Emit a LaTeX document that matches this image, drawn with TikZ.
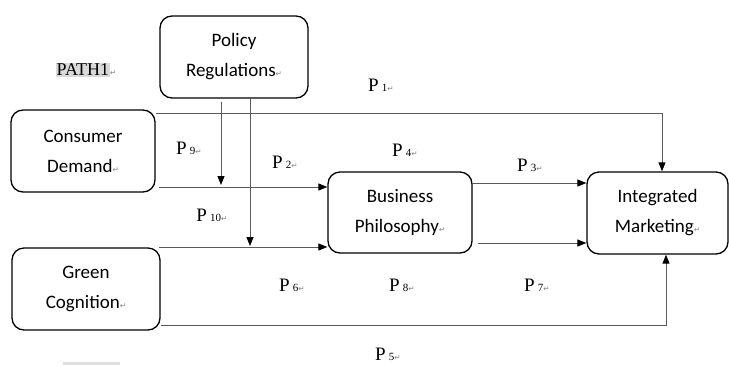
\documentclass[tikz,border=0pt]{standalone}
\usepackage{fontspec}
\setmainfont{Liberation Serif}
\newfontfamily\boxfont{Carlito}
\newfontfamily\markfont{DejaVu Sans}
\usetikzlibrary{arrows.meta,positioning,calc}
\newcommand{\retmark}{{\color{gray}\markfont\fontsize{7.5}{7.5}\selectfont ↵}}
\newcommand{\plab}[1]{P\,{\fontsize{11}{11}\selectfont #1}\retmark}

\begin{document}
\begin{tikzpicture}[x=1pt,y=-1pt,>={Triangle[length=9pt,width=7pt,color=black]},
  box/.style={draw,line width=1.3pt,rounded corners=12pt,align=center,
    font=\boxfont\fontsize{19}{30}\selectfont,inner sep=0pt},
  conn/.style={draw=black!65,line width=0.9pt},
  lab/.style={font=\fontsize{19}{19}\selectfont,inner sep=0pt}]

\useasboundingbox (0,0) rectangle (729,365);

% ---- boxes ----
\node[box,minimum width=148pt,minimum height=82pt] (policy) at (234,57) {Policy\\Regulations\retmark};
\node[box,minimum width=144pt,minimum height=82pt] (consumer) at (83,151) {Consumer\\Demand\retmark};
\node[box,minimum width=148pt,minimum height=82pt] (green) at (86,289) {Green\\Cognition\retmark};
\node[box,minimum width=144pt,minimum height=81pt] (business) at (400,212.5) {Business\\Philosophy\retmark};
\node[box,minimum width=141pt,minimum height=82pt] (integrated) at (657.5,213) {Integrated\\Marketing\retmark};

% ---- PATH1 ----
\node[font=\fontsize{18}{18}\selectfont,inner sep=0pt] (path1) at (86,70)
  {\setlength{\fboxsep}{1pt}\colorbox{black!15}{PATH1}\retmark};
\fill[black!12] (63,362) rectangle (120,365);

% ---- connettori ----
\coordinate (j1) at (221,187);
\coordinate (j2) at (250,247);
\draw[conn,->] ([yshift=-4pt]consumer.north east) -| ([xshift=4.5pt]integrated.north);
\draw[conn,->,shorten <=3pt,shorten >=2pt] (policy.south -| j1) -- (j1);
\draw[conn,->,shorten >=1pt] (policy.south -| j2) -- (j2);
\draw[conn,->,shorten <=3pt] (consumer.east |- j1) -- (business.west |- j1);
\draw[conn,->,shorten <=-2pt] (green.east |- j2) -- (business.west |- j2);
\draw[conn,->] (business.east |- 0,183) -- (integrated.west |- 0,183);
\draw[conn,->,shorten <=5pt] (business.east |- 0,243) -- (integrated.west |- 0,243);
\draw[conn,->] (green.east |- 0,325) -| ([xshift=8.5pt]integrated.south);

% ---- etichette P ----
\node[lab] (p1) at (381,85) {\plab{1}};
\node[lab] (p9) at (189,148) {\plab{9}};
\node[lab] (p2) at (285,162) {\plab{2}};
\node[lab] (p4) at (405,150) {\plab{4}};
\node[lab] (p3) at (530,165) {\plab{3}};
\node[lab] (p10) at (212,215) {\plab{10}};
\node[lab] (p6) at (292,285) {\plab{6}};
\node[lab] (p8) at (402,285) {\plab{8}};
\node[lab] (p7) at (537,285) {\plab{7}};
\node[lab] (p5) at (388,354) {\plab{5}};

\end{tikzpicture}
\end{document}
